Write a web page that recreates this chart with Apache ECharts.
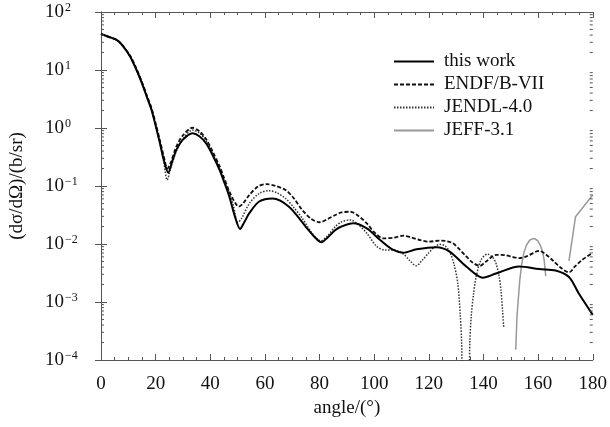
<!DOCTYPE html>
<html>
<head>
<meta charset="utf-8">
<script src="https://cdn.jsdelivr.net/npm/echarts@6/dist/echarts.min.js"></script>
<style>
  html, body { margin: 0; padding: 0; background: #fff; }
  #main { width: 610px; height: 427px; }
</style>
</head>
<body>
<div id="main"></div>
<script>
// angle (deg) and dσ/dΩ (b/sr)
var workAngle = [0, 3, 6, 8, 10.7, 13, 15, 17, 18.5, 20, 21.6, 23, 24.6, 26, 27.6, 30, 33.5, 36, 38.5, 41, 43.4, 45, 47, 49, 50.9, 52.5, 54.3, 57.9, 62.8, 68.8, 74.9, 78, 80.7, 83, 85.8, 88, 92.3, 97.3, 102.2, 107, 110.7, 115.5, 122.8, 127.6, 133.7, 139.8, 144.6, 153.1, 160.4, 166.4, 171.3, 174.9, 180];
var workVal = [41.7, 37, 32.5, 26, 17, 10, 5.9, 3.2, 2.05, 1.1, 0.54, 0.28, 0.17, 0.26, 0.42, 0.63, 0.81, 0.72, 0.54, 0.33, 0.19, 0.12, 0.065, 0.03, 0.0182, 0.024, 0.034, 0.054, 0.061, 0.044, 0.020, 0.0135, 0.0107, 0.013, 0.0174, 0.020, 0.0227, 0.0186, 0.0117, 0.0079, 0.0071, 0.0081, 0.0088, 0.0074, 0.0041, 0.00263, 0.0031, 0.0041, 0.0037, 0.0035, 0.0027, 0.0014, 0.0006];

var endfAngle = [0, 3, 6, 8, 10.7, 13, 15, 17, 18.5, 20, 21.6, 23, 24.3, 25.5, 27.6, 30, 33.5, 36, 38.5, 41, 43.4, 45, 47, 49, 50.4, 52, 54.3, 57.5, 60.6, 64, 67.6, 70.5, 73.7, 77, 80, 83, 85.8, 88, 91.3, 94, 97.3, 100, 103.4, 107, 110.7, 113.5, 116.8, 120, 124, 126.5, 128.8, 131, 133.7, 136, 138.6, 141, 144.6, 148, 150.5, 153.1, 156, 160.4, 162.5, 165.2, 168, 171.3, 173.5, 176.1, 180];
var endfVal = [41.7, 37, 32.5, 26, 17.5, 10.5, 6.2, 3.4, 2.2, 1.2, 0.6, 0.32, 0.2, 0.25, 0.48, 0.75, 1.01, 0.88, 0.64, 0.38, 0.22, 0.14, 0.08, 0.052, 0.044, 0.05, 0.07, 0.098, 0.108, 0.1, 0.085, 0.062, 0.0385, 0.027, 0.0237, 0.027, 0.0316, 0.035, 0.036, 0.031, 0.0227, 0.016, 0.0125, 0.0128, 0.0139, 0.013, 0.0117, 0.011, 0.0114, 0.0112, 0.0103, 0.0083, 0.0061, 0.0048, 0.0042, 0.005, 0.0065, 0.0064, 0.006, 0.0057, 0.0062, 0.0076, 0.0068, 0.0053, 0.004, 0.00324, 0.0041, 0.0053, 0.0071];

var jendlAngle = [0, 3, 6, 8, 10.7, 13, 15, 17, 18.5, 20, 21.6, 23, 24.2, 25.5, 27.6, 30, 33.5, 36, 38.5, 41, 43.4, 45, 47, 48.5, 50.1, 51.5, 54.3, 58, 61.6, 64.5, 67.6, 70.5, 73.7, 77, 80.4, 83, 85.8, 88, 91.3, 94, 97.3, 101, 104, 107, 110.7, 113, 115.3, 117.5, 119.8, 122, 124, 126, 127.6, 129.2, 130.6, 131.5, 132, 132.4, 134.6, 135, 135.5, 136.3, 137.3, 139.1, 141.5, 143.5, 144.6, 145.7, 146.4, 147, 147.4];
var jendlVal = [41.7, 37, 32.5, 26, 17, 10, 5.9, 3.2, 2.05, 1.1, 0.54, 0.26, 0.127, 0.2, 0.4, 0.65, 0.92, 0.82, 0.6, 0.35, 0.2, 0.125, 0.075, 0.045, 0.0235, 0.028, 0.05, 0.075, 0.083, 0.076, 0.061, 0.043, 0.0277, 0.016, 0.0113, 0.014, 0.020, 0.024, 0.026, 0.022, 0.0153, 0.009, 0.0079, 0.0079, 0.0067, 0.0052, 0.0042, 0.0052, 0.0069, 0.0088, 0.0099, 0.0092, 0.0074, 0.0045, 0.0021, 0.0006, 0.0002, 0.00003, 0.00003, 0.0002, 0.00056, 0.0013, 0.0027, 0.0053, 0.0067, 0.0058, 0.0046, 0.0028, 0.0016, 0.0007, 0.00037];

var jeffAngle = [151.8, 152.3, 152.8, 153.3, 154, 154.8, 155.8, 157, 158.5, 159.8, 160.8, 161.6, 162.2, 162.8, 167, 171.3, 173.7, 180];
var jeffVal = [0.00015, 0.0006, 0.0012, 0.0024, 0.0045, 0.0071, 0.0097, 0.0117, 0.0125, 0.0115, 0.0095, 0.0075, 0.0053, 0.0028, null, 0.0051, 0.0296, 0.070];

var yExp = [-4, -3, -2, -1, 0, 1, 2];

function pairs(a, v) {
  return a.map(function (x, i) { return [x, v[i] === null ? '-' : v[i]]; });
}

// log-spaced minor ticks on the y axis
var minorY = [];
yExp.slice(0, -1).forEach(function (e) {
  for (var k = 2; k <= 9; k++) minorY.push([0, k * Math.pow(10, e)]);
});

var serif = 'Liberation Serif';
var frame = '#555';

var myChart = echarts.init(document.getElementById('main'));
var option = {
  animation: false,
  grid: { left: 99, right: 16, top: 12, bottom: 67 },
  legend: {
    orient: 'vertical',
    left: 393,
    top: 52,
    padding: 0,
    itemWidth: 40,
    itemHeight: 14,
    itemGap: 4,
    itemStyle: { opacity: 0 },
    textStyle: { fontFamily: serif, fontSize: 19, color: '#111', padding: [0, 0, 0, 5] },
    data: ['this work', 'ENDF/B-VII', 'JENDL-4.0', 'JEFF-3.1']
  },
  xAxis: [{
    type: 'value', min: 0, max: 180, interval: 20,
    name: 'angle/(°)', nameLocation: 'middle', nameGap: 38,
    nameTextStyle: { fontFamily: serif, fontSize: 19, color: '#111' },
    axisLine: { lineStyle: { color: frame } },
    axisTick: { inside: true, length: 6, lineStyle: { color: frame } },
    minorTick: { show: true, splitNumber: 4, length: 3, lineStyle: { color: frame } },
    axisLabel: { fontFamily: serif, fontSize: 19, color: '#111', margin: 15 },
    splitLine: { show: false }
  }, {
    type: 'value', min: 0, max: 180, interval: 20, position: 'top',
    axisLine: { lineStyle: { color: frame } },
    axisTick: { inside: true, length: 6, lineStyle: { color: frame } },
    minorTick: { show: true, splitNumber: 4, length: 3, lineStyle: { color: frame } },
    axisLabel: { show: false },
    splitLine: { show: false }
  }],
  yAxis: [{
    type: 'log', logBase: 10, min: 1e-4, max: 100,
    name: '(dσ/dΩ)/(b/sr)', nameLocation: 'middle', nameGap: 74, nameRotate: 90,
    nameTextStyle: { fontFamily: serif, fontSize: 19, color: '#111' },
    axisLine: { show: true, lineStyle: { color: frame } },
    axisTick: { inside: true, length: 6, lineStyle: { color: frame } },
    axisLabel: {
      align: 'left', margin: 56, color: '#111',
      formatter: function (v) {
        var e = Math.round(Math.log10(v));
        return '{b|10}{s|' + (e < 0 ? '\u2212' + (-e) : e) + '}';
      },
      rich: {
        b: { fontFamily: serif, fontSize: 19, color: '#111' },
        s: { fontFamily: serif, fontSize: 12, color: '#111', verticalAlign: 'top', padding: [0, 0, 9, 1] }
      }
    },
    splitLine: { show: false }
  }, {
    type: 'log', logBase: 10, min: 1e-4, max: 100, position: 'right',
    axisLine: { show: true, lineStyle: { color: frame } },
    axisTick: { inside: true, length: 6, lineStyle: { color: frame } },
    axisLabel: { show: false },
    splitLine: { show: false }
  }],
  series: [{
    name: 'this work', type: 'line', showSymbol: false, symbol: 'none', smooth: 0.3,
    lineStyle: { color: '#000', width: 2 }, itemStyle: { color: '#000' },
    data: pairs(workAngle, workVal), z: 5
  }, {
    name: 'ENDF/B-VII', type: 'line', showSymbol: false, symbol: 'none', smooth: 0.3,
    lineStyle: { color: '#111', width: 1.8, type: [4, 2] }, itemStyle: { color: '#111' },
    data: pairs(endfAngle, endfVal), z: 4
  }, {
    name: 'JENDL-4.0', type: 'line', showSymbol: false, symbol: 'none', smooth: 0.3,
    lineStyle: { color: '#333', width: 1.5, type: [1.5, 1.5] }, itemStyle: { color: '#333' },
    data: pairs(jendlAngle, jendlVal), z: 3
  }, {
    name: 'JEFF-3.1', type: 'line', showSymbol: false, symbol: 'none', smooth: false,
    lineStyle: { color: '#999', width: 1.5 }, itemStyle: { color: '#999' },
    data: pairs(jeffAngle, jeffVal), z: 2
  }, {
    type: 'custom', silent: true, clip: false, z: 6,
    data: minorY,
    renderItem: function (params, api) {
      var v = api.value(1);
      var p1 = api.coord([0, v]);
      var p2 = api.coord([180, v]);
      var st = { stroke: frame, lineWidth: 1 };
      return {
        type: 'group', children: [
          { type: 'line', shape: { x1: p1[0], y1: p1[1], x2: p1[0] + 3, y2: p1[1] }, style: st },
          { type: 'line', shape: { x1: p2[0] - 3, y1: p2[1], x2: p2[0], y2: p2[1] }, style: st }
        ]
      };
    }
  }]
};
myChart.setOption(option);
</script>
</body>
</html>
